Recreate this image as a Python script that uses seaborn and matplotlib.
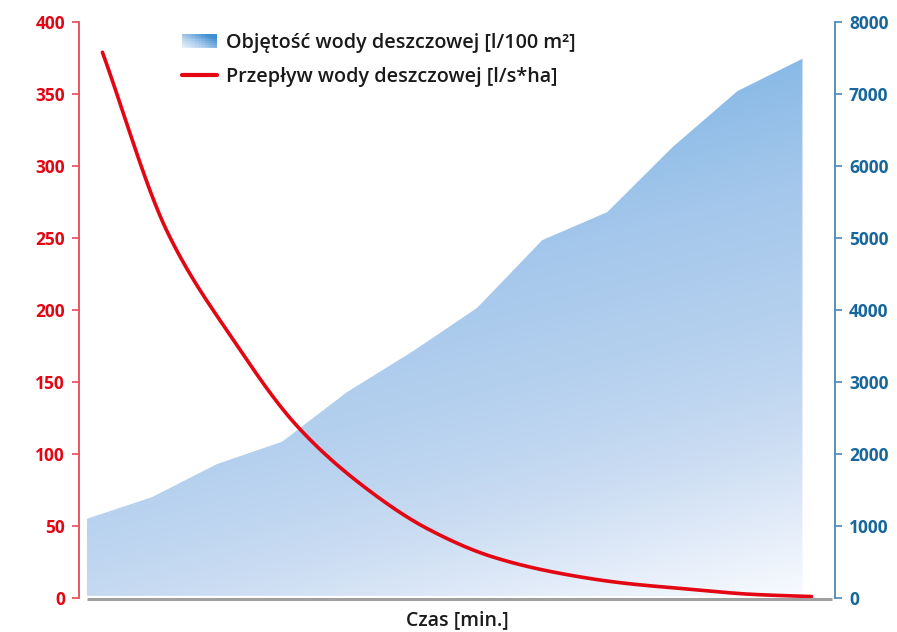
import numpy as np
import matplotlib
matplotlib.use("Agg")
import matplotlib.pyplot as plt
import seaborn as sns
from matplotlib.colors import LinearSegmentedColormap
from matplotlib.legend_handler import HandlerBase
from matplotlib.patches import Rectangle, Patch
from matplotlib.lines import Line2D

# --- data -------------------------------------------------------------
czas_objetosc = [0, 5, 10, 15, 20, 25, 30, 35, 40, 45, 50, 55]
objetosc = [1100, 1400, 1860, 2170, 2860, 3420, 4030, 4970, 5360, 6260, 7040, 7490]

czas_przeplyw = [1.2, 6.2, 11.2, 16.2, 21.2, 26.2, 31.2, 36.2, 41.2, 46.2, 51.2, 55.7]
przeplyw = [379, 254, 180, 119, 78, 48, 28.5, 17.4, 10.4, 6.2, 2.5, 1.0]

ticks_lewa = [0, 50, 100, 150, 200, 250, 300, 350, 400]
ticks_prawa = [0, 1000, 2000, 3000, 4000, 5000, 6000, 7000, 8000]

etykieta_objetosc = "Objętość wody deszczowej [l/100 m²]"
etykieta_przeplyw = "Przepływ wody deszczowej [l/s*ha]"
etykieta_x = "Czas [min.]"

# --- style ------------------------------------------------------------
CZERWONY = "#e30613"
CZERWONY_OS = "#e84a55"
NIEBIESKI = "#17679c"
NIEBIESKI_OS = "#4a88b8"
SZARY = "#a0a0a0"

sns.set_theme(style="white")
plt.rcParams["font.family"] = ["Open Sans", "DejaVu Sans"]


def pchip(x, y, xs):
    """Monotone cubic curve through the points, for a smooth flow line."""
    x = np.asarray(x, float)
    y = np.asarray(y, float)
    h = np.diff(x)
    d = np.diff(y) / h
    m = np.zeros_like(y)
    for k in range(1, len(x) - 1):
        if d[k - 1] * d[k] > 0:
            w1 = 2 * h[k] + h[k - 1]
            w2 = h[k] + 2 * h[k - 1]
            m[k] = (w1 + w2) / (w1 / d[k - 1] + w2 / d[k])
    m[0] = d[0]
    m[-1] = d[-1]
    i = np.clip(np.searchsorted(x, xs) - 1, 0, len(x) - 2)
    t = (xs - x[i]) / h[i]
    h00 = 2 * t**3 - 3 * t**2 + 1
    h10 = t**3 - 2 * t**2 + t
    h01 = -2 * t**3 + 3 * t**2
    h11 = t**3 - t**2
    return h00 * y[i] + h10 * h[i] * m[i] + h01 * y[i + 1] + h11 * h[i] * m[i + 1]


fig = plt.figure(figsize=(8.97, 6.32), dpi=100)
ax = fig.add_axes([79 / 897, 1 - 598 / 632, (835 - 79) / 897, (598 - 22) / 632])
ax2 = ax.twinx()

x_lim = (-0.6, 57.5)

# --- volume area with a diagonal gradient ------------------------------
cmap = LinearSegmentedColormap.from_list(
    "deszcz",
    [(0.0, "#7aafe1"), (0.26, "#89bae6"), (0.41, "#a2c6eb"), (0.64, "#b8d2ef"),
     (0.76, "#c8dbf2"), (0.88, "#e0eaf8"), (1.0, "#f8fbff")],
)
gx, gy = np.meshgrid(np.linspace(0, 1, 400), np.linspace(0, 1, 400))
grad = (0.35 * gx + gy) / 1.35
img = ax2.imshow(grad, cmap=cmap, vmin=0, vmax=1,
                 extent=[czas_objetosc[0], czas_objetosc[-1], 0, max(objetosc)],
                 origin="upper", aspect="auto", interpolation="bilinear", zorder=1)
obszar = ax2.fill_between(czas_objetosc, objetosc, 0, color="none", lw=0)
img.set_clip_path(obszar.get_paths()[0], ax2.transData)

# --- flow line ---------------------------------------------------------
xs = np.linspace(czas_przeplyw[0], czas_przeplyw[-1], 600)
sns.lineplot(x=xs, y=pchip(czas_przeplyw, przeplyw, xs), ax=ax,
             color=CZERWONY, lw=2.6, zorder=5)

# baseline
ax.plot([czas_objetosc[0], 57.3], [-0.9, -0.9], color=SZARY, lw=2.2,
        clip_on=False, zorder=3, solid_capstyle="butt")
ax.plot([czas_objetosc[0], czas_objetosc[-1]], [1.0, 1.0], color="white", lw=1.6,
        zorder=2, solid_capstyle="butt")

ax.set_zorder(ax2.get_zorder() + 1)
ax.patch.set_visible(False)

# --- axes ---------------------------------------------------------------
for a in (ax, ax2):
    a.set_xlim(*x_lim)
    a.grid(False)
    for s in a.spines.values():
        s.set_visible(False)

ax.set_ylim(0, 400)
ax2.set_ylim(0, 8000)
ax.set_yticks(ticks_lewa)
ax2.set_yticks(ticks_prawa)
ax.set_xticks([])

ax.spines["left"].set_visible(True)
ax.spines["left"].set_color(CZERWONY_OS)
ax.spines["left"].set_linewidth(1.3)
ax2.spines["right"].set_visible(True)
ax2.spines["right"].set_color(NIEBIESKI_OS)
ax2.spines["right"].set_linewidth(1.3)

ax.tick_params(axis="y", direction="out", length=5, width=1.2, color=CZERWONY_OS,
               labelcolor=CZERWONY, labelsize=12.5, pad=5, left=True)
ax2.tick_params(axis="y", direction="out", length=5, width=1.2, color=NIEBIESKI_OS,
                labelcolor=NIEBIESKI, labelsize=12.5, pad=5, right=True)
for lab in ax.get_yticklabels() + ax2.get_yticklabels():
    lab.set_fontweight("bold")

ax.set_xlabel(etykieta_x, fontsize=14, fontweight="semibold", color="#1a1a1a", labelpad=9)


# --- legend ---------------------------------------------------------------
class GradientHandler(HandlerBase):
    def create_artists(self, legend, orig_handle, xdescent, ydescent,
                       width, height, fontsize, trans):
        cm = LinearSegmentedColormap.from_list("leg", ["#f2f7fd", "#a9cbeb", "#3f8fd2"])
        nx, ny = 24, 8
        arts = []
        for i in range(nx):
            for j in range(ny):
                u = (i + 0.5) / nx
                v = (j + 0.5) / ny
                c = cm(min(1.0, 0.65 * u + 0.55 * v))
                r = Rectangle((-xdescent + i * width / nx, -ydescent + j * height / ny),
                              width / nx + 0.05, height / ny + 0.05,
                              facecolor=c, edgecolor="none", transform=trans)
                arts.append(r)
        return arts


uchwyty = [Patch(label=etykieta_objetosc),
           Line2D([], [], color=CZERWONY, lw=3, label=etykieta_przeplyw)]
leg = ax.legend(handles=uchwyty, loc="upper left",
                bbox_to_anchor=(182 / 897, 1 - 33 / 632), bbox_transform=fig.transFigure,
                frameon=False, fontsize=14.2, borderpad=0, borderaxespad=0,
                handlelength=1.75, handleheight=0.75, handletextpad=0.5, labelspacing=0.72,
                handler_map={Patch: GradientHandler()})
for t in leg.get_texts():
    t.set_fontweight("semibold")
    t.set_color("#1a1a1a")

fig.savefig("out.png", dpi=100)
